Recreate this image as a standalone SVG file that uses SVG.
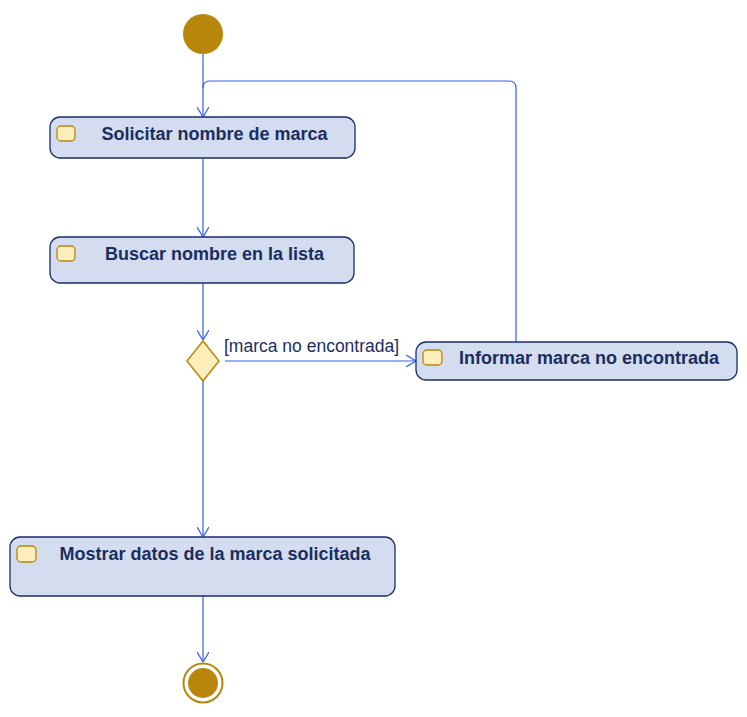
<svg xmlns="http://www.w3.org/2000/svg" width="747" height="717" viewBox="0 0 747 717">
<defs>
<style>
.act{fill:#d3ddef;stroke:#1b2d6b;stroke-width:1.3}
.ico{fill:#fdeebb;stroke:#b8860b;stroke-width:1.3}
.lbl{font-family:"Liberation Sans",Arial,sans-serif;font-weight:bold;font-size:18px;fill:#1b2d5e;text-anchor:middle}
.guard{font-family:"Liberation Sans",Arial,sans-serif;font-size:17.5px;fill:#1b2d5e}
.edge{fill:none;stroke:#3060f0;stroke-width:1.2}
</style>
<marker id="arr" viewBox="0 0 10 12" refX="10" refY="6" markerWidth="10" markerHeight="12" markerUnits="userSpaceOnUse" orient="auto">
<path d="M0,0 L10,6 L0,12" fill="none" stroke="#3060f0" stroke-width="1.2"/>
</marker>
</defs>
<rect width="747" height="717" fill="#ffffff"/>
<g id="connectors">
<path class="edge" d="M203,54 L203,117" marker-end="url(#arr)"/>
<path class="edge" d="M516,342 L516,88 Q516,81 509,81 L210,81 Q203,81 203,88"/>
<path class="edge" d="M203,158 L203,237" marker-end="url(#arr)"/>
<path class="edge" d="M203,283 L203,340" marker-end="url(#arr)"/>
<path class="edge" d="M225,361 L416,361" marker-end="url(#arr)"/>
<text class="guard" x="224" y="352">[marca no encontrada]</text>
<path class="edge" d="M203,381 L203,537" marker-end="url(#arr)"/>
<path class="edge" d="M203,596 L203,662" marker-end="url(#arr)"/>
</g>
<g id="start">
<circle cx="203" cy="34" r="20" fill="#b8860b"/>
</g>
<g id="solicitar">
<rect class="act" x="50" y="117" width="305" height="41" rx="10"/>
<rect class="ico" x="57" y="126" width="18" height="15" rx="4"/>
<text class="lbl" x="214.5" y="140">Solicitar nombre de marca</text>
</g>
<g id="buscar">
<rect class="act" x="50" y="237" width="304" height="46" rx="10"/>
<rect class="ico" x="57" y="246" width="18" height="15" rx="4"/>
<text class="lbl" x="214.5" y="260">Buscar nombre en la lista</text>
</g>
<g id="decision">
<polygon points="203,341 219,361 203,381 187,361" fill="#fdeebb" stroke="#b8860b" stroke-width="1.5"/>
</g>
<g id="informar">
<rect class="act" x="416" y="342" width="321" height="38" rx="10"/>
<rect class="ico" x="423" y="350" width="19" height="15" rx="4"/>
<text class="lbl" x="589" y="364">Informar marca no encontrada</text>
</g>
<g id="mostrar">
<rect class="act" x="10" y="537" width="385" height="59" rx="10"/>
<rect class="ico" x="17" y="546" width="19" height="16" rx="4"/>
<text class="lbl" x="215" y="560">Mostrar datos de la marca solicitada</text>
</g>
<g id="end">
<circle cx="203" cy="683" r="19.5" fill="#ffffff" stroke="#b8860b" stroke-width="2"/>
<circle cx="203" cy="683" r="15" fill="#b8860b"/>
</g>
</svg>
